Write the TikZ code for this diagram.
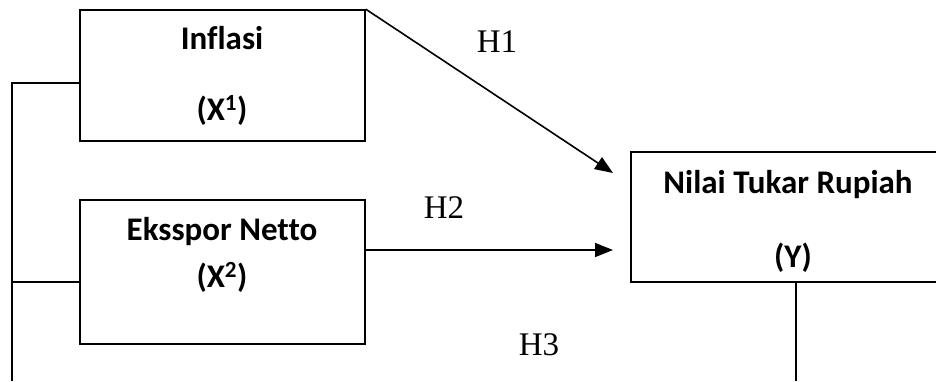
\documentclass[tikz,border=0pt]{standalone}
\usepackage{fontspec}
\setmainfont{Liberation Serif}
\newfontfamily\boxfont[Ligatures=NoCommon]{Carlito}
\usetikzlibrary{arrows.meta}
\tikzset{
  varbox/.style={draw, line width=1.6pt, minimum width=#1, inner sep=0pt},
  boxtext/.style={font=\boxfont\bfseries\fontsize{33}{38}\selectfont, anchor=base, inner sep=0pt},
  hlabel/.style={font=\fontsize{33}{38}\selectfont, anchor=base, inner sep=0pt},
  link/.style={line width=1.6pt},
  path arrow/.style={line width=1.6pt, -{Triangle[length=18pt,width=14pt]}}
}
\begin{document}
\begin{tikzpicture}[x=1pt,y=-1pt]
\useasboundingbox (0,0) rectangle (936,381);
\fill[white] (0,0) rectangle (936,381);

% variable boxes
\node[varbox=285pt, minimum height=131pt] (inf) at (222.5,75.5) {};
\node[varbox=285pt, minimum height=144pt] (eks) at (222.5,272) {};
\node[varbox=314pt, minimum height=130pt] (nty) at (788,217) {};

% box captions
\node[boxtext] (infname) at (222,49) {Inflasi};
\node[boxtext] (infsym) at (222,120) {(X\textsuperscript{1})};
\node[boxtext] (eksname) at (222,240) {Eksspor Netto};
\node[boxtext] (ekssym) at (222,287) {(X\textsuperscript{2})};
\node[boxtext] (ntyname) at (788,193) {Nilai Tukar Rupiah};
\node[boxtext] (ntysym) at (793,267) {(Y)};

% arrow ends and open line ends
\coordinate (h1end) at (613,173);
\coordinate (h2end) at (613,250);
\coordinate (lefttop) at (12,83);
\coordinate (leftmid) at (12,282);
\coordinate (leftbot) at (12,381);
\coordinate (rightbot) at (796,381);

% hypothesis paths
\draw[path arrow] (inf.north east) -- (h1end);
\draw[path arrow] (eks.east |- h2end) -- (h2end);

% joint-effect bracket (H3)
\draw[link] (inf.west |- lefttop) -- (lefttop) -- (leftbot);
\draw[link] (eks.west |- leftmid) -- (leftmid);
\draw[link] (nty.south -| rightbot) -- (rightbot);

% hypothesis labels
\node[hlabel] (h1) at (497,52) {H1};
\node[hlabel] (h2) at (444,218) {H2};
\node[hlabel] (h3) at (539,355) {H3};
\end{tikzpicture}
\end{document}
